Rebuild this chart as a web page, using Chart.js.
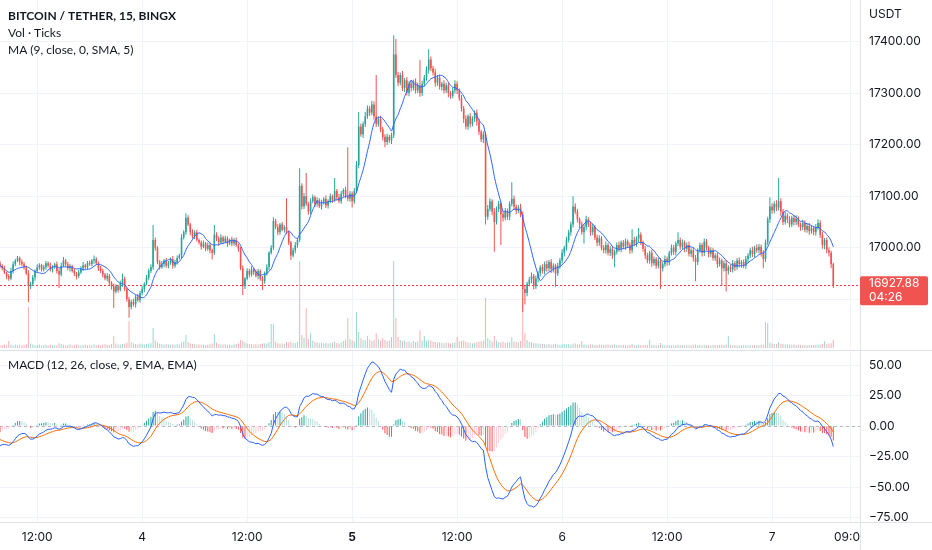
<!DOCTYPE html>
<html>
<head>
<meta charset="utf-8">
<title>BTC/USDT 15m</title>
<script src="https://cdn.jsdelivr.net/npm/chart.js@4.4.1/dist/chart.umd.min.js"></script>
<style>
  html, body { margin: 0; padding: 0; background: #ffffff; }
  #wrap { position: relative; width: 932px; height: 550px; overflow: hidden; }
  canvas { position: absolute; left: 0; display: block; }
  #priceCanvas { top: 0; }
  #macdCanvas { top: 350px; }
</style>
</head>
<body>
<div id="wrap">
  <canvas id="priceCanvas" width="932" height="350"></canvas>
  <canvas id="macdCanvas" width="932" height="200"></canvas>
</div>
<script>
/* =====================================
   Data (15 min bars, first bar Dec 3 07:45)
===================================== */
const startDay = 3;
const startMinute = 7 * 60 + 45;
const barMinutes = 15;

const firstOpen = 16970;

const closes = [
  16965,16960,16952,16945,16940,16955,16968,16975,16980,16972,16968,16962,16950,16925,16930,16942,16955,16962,16966,16958,
  16962,16970,16965,16958,16962,16968,16955,16948,16965,16975,16968,16960,16964,16955,16950,16945,16952,16960,16966,16962,
  16970,16968,16975,16978,16970,16960,16955,16948,16940,16945,16932,16925,16915,16925,16918,16930,16940,16920,16900,16885,
  16895,16890,16905,16898,16912,16920,16930,16942,16955,16962,17015,17000,16972,16962,16968,16975,16965,16970,16978,16965,
  16972,16980,16985,17020,17030,17058,17045,17030,17022,17030,17015,17010,17002,17008,16998,17005,16995,16990,17025,17018,
  17010,17020,17012,17018,17008,17015,17008,17015,17005,16998,16960,16925,16940,16955,16948,16958,16952,16945,16955,16940,
  16935,16950,16962,16990,17000,17052,17040,17030,17045,17035,17040,17030,17010,16985,16995,17005,17015,17120,17080,17100,
  17085,17070,17090,17098,17085,17092,17080,17088,17095,17082,17090,17100,17092,17110,17098,17090,17105,17112,17100,17095,
  17105,17090,17110,17160,17235,17220,17240,17255,17270,17262,17278,17255,17240,17250,17230,17215,17205,17215,17208,17218,
  17375,17335,17320,17335,17310,17325,17300,17318,17310,17322,17305,17315,17300,17318,17330,17345,17365,17348,17340,17320,
  17330,17312,17318,17305,17315,17300,17295,17305,17318,17305,17290,17270,17250,17235,17255,17240,17250,17262,17245,17225,
  17210,17220,17060,17075,17090,17070,17050,17075,17085,17065,17058,17070,17060,17085,17095,17080,17072,17078,17065,16920,
  16912,16930,16938,16945,16925,16940,16950,16962,16955,16968,16960,16972,16958,16965,16950,16965,16975,16990,17000,17015,
  17030,17045,17080,17070,17055,17045,17030,17040,17055,17045,17030,17040,17020,17010,17018,17000,16995,17005,16990,16998,
  16985,16992,17005,16998,17010,17002,17012,17005,16995,17015,17008,17018,17025,17010,16998,16985,16975,16990,16970,16978,
  16965,16975,16960,16968,16978,16972,16990,17000,16992,17008,17015,17002,17010,16998,17005,16988,16995,16980,16972,16995,
  17005,16990,17012,17000,16988,16995,16980,16985,16968,16975,16960,16970,16955,16962,16958,16970,16962,16975,16968,16972,
  16965,16978,16985,16995,16988,17000,16995,17002,16990,16978,17010,17055,17080,17072,17085,17078,17090,17070,17050,17062,
  17055,17045,17058,17050,17056,17045,17040,17048,17035,17042,17032,17038,17030,17040,17048,17025,17005,17015,16995,16990,
  16968,16927.88
];

// wick length above max(open, close) / below min(open, close)
const upperWicks = [
  4,3,5,2,4,6,5,3,4,3,5,4,3,6,4,5,3,6,4,3,
  5,4,3,6,4,3,5,4,6,7,3,4,5,3,4,3,5,4,6,3,
  4,5,3,7,4,3,5,4,3,6,4,3,5,4,3,6,10,4,3,5,
  4,6,3,5,4,6,3,5,4,6,29,5,3,4,6,3,5,4,3,6,
  4,5,3,6,4,9,5,3,6,4,5,3,4,6,3,5,4,3,19,5,
  4,6,3,5,4,3,6,4,5,3,4,6,3,5,4,6,3,5,4,3,
  5,4,6,3,5,7,4,6,3,5,4,56,4,3,5,6,4,34,5,6,
  45,4,6,5,3,6,4,5,3,6,4,5,3,25,4,6,5,3,6,95,
  5,4,6,8,28,6,5,8,6,5,7,6,80,5,6,4,5,6,4,5,
  37,30,6,5,8,4,6,5,7,4,6,5,49,6,5,7,20,6,5,7,
  5,6,4,7,5,6,4,5,7,5,4,6,5,7,4,6,5,4,6,5,
  4,6,5,8,6,4,7,5,6,4,5,7,6,5,32,6,4,5,7,5,
  6,4,5,7,4,6,5,4,6,5,7,4,6,5,4,6,5,7,4,6,
  5,6,20,6,5,4,6,5,7,4,5,6,4,5,6,4,5,7,4,5,
  6,4,5,7,4,5,6,4,5,21,6,4,13,5,4,6,5,4,6,5,
  4,6,5,4,7,5,4,6,5,4,15,5,6,4,5,7,4,5,6,4,
  5,4,6,5,4,6,5,4,5,6,4,5,6,4,5,6,4,5,6,4,
  5,6,4,5,7,4,6,5,4,5,6,5,18,6,5,7,45,6,5,7,
  5,6,4,5,7,5,4,6,5,4,6,5,4,6,7,5,6,4,5,6,
  4,3
];

const lowerWicks = [
  5,4,3,6,4,3,5,4,3,6,4,5,3,31,5,4,6,3,5,4,
  4,5,3,4,6,3,5,26,4,3,5,4,6,3,5,6,4,3,5,4,
  5,3,4,6,3,5,4,6,3,5,4,6,32,4,5,3,6,4,5,21,
  5,4,6,3,5,4,6,3,5,4,5,6,4,5,3,6,4,5,3,6,
  4,5,3,6,4,5,3,6,4,5,3,4,6,3,5,4,6,13,4,5,
  6,3,5,4,6,3,5,4,3,6,4,17,5,3,6,4,5,3,6,4,
  17,5,4,6,3,5,4,6,5,3,6,4,5,9,4,6,5,4,6,5,
  4,6,5,4,6,5,3,6,4,5,6,4,5,3,6,4,5,6,4,5,
  6,12,5,4,6,5,7,6,5,6,5,7,6,5,6,7,10,6,5,7,
  5,6,7,5,6,8,5,6,7,5,6,5,7,6,5,6,7,5,6,8,
  6,5,7,6,5,8,6,5,6,7,5,6,8,5,6,7,5,6,8,6,
  5,7,15,6,5,7,58,5,6,60,7,5,6,7,5,6,7,5,6,45,
  22,6,5,7,6,5,7,6,5,7,6,5,7,6,26,5,6,5,7,6,
  5,7,6,5,6,7,5,22,6,5,7,6,5,7,6,5,6,7,5,6,
  7,23,5,6,7,5,6,5,7,6,5,6,7,5,6,7,5,6,7,5,
  6,5,40,6,5,7,6,5,6,7,5,6,5,7,6,5,6,7,37,6,
  5,7,6,5,7,6,5,6,7,5,35,6,40,7,5,6,7,5,6,7,
  5,6,7,5,6,7,5,6,7,18,6,5,7,6,5,7,6,8,6,5,
  7,6,5,7,6,5,7,6,5,6,7,5,6,7,5,6,7,8,6,7,
  8,6
];

// tick volume
const volumes = [
  60,55,70,50,140,65,48,72,58,66,50,62,75,820,90,68,55,60,72,50,
  58,64,48,70,55,62,50,95,80,66,52,60,74,48,56,70,62,50,58,66,
  54,60,48,72,56,64,50,68,74,58,62,80,240,90,70,66,78,84,110,540,
  120,95,80,72,88,76,70,82,90,96,400,150,110,86,74,68,80,72,66,70,
  64,78,72,110,130,260,120,96,84,78,70,74,66,72,60,68,76,90,280,110,
  86,72,68,76,64,70,62,74,80,96,160,140,110,90,82,76,70,84,72,80,
  96,88,92,120,480,480,130,96,88,92,84,120,110,130,100,96,120,1740,260,200,
  800,180,300,150,120,110,96,104,90,100,88,96,110,130,100,92,110,140,160,600,
  180,150,130,720,320,200,160,150,240,170,140,160,300,180,150,200,160,140,150,220,
  1740,600,220,160,140,150,120,130,110,140,120,130,360,150,240,140,160,150,130,120,
  110,120,100,96,110,104,92,100,110,220,130,140,150,120,110,100,96,104,120,130,
  140,150,1000,200,160,130,240,150,120,110,130,100,110,120,220,130,120,110,140,1000,
  300,160,120,110,100,96,90,84,80,76,72,80,70,76,84,70,66,74,80,72,
  78,70,84,90,72,68,140,76,70,64,68,72,60,66,70,62,58,64,70,60,
  66,72,58,62,56,64,60,54,58,80,62,56,68,60,54,58,62,160,66,58,
  54,60,100,64,58,52,60,56,50,58,64,54,60,52,58,50,56,62,70,54,
  58,52,60,54,56,50,58,62,54,60,66,58,70,240,60,54,58,52,56,50,
  54,58,52,60,56,62,58,54,60,70,520,500,110,90,80,76,120,84,78,70,
  72,68,64,70,62,66,60,58,64,56,60,62,58,64,70,66,80,140,76,88,
  96,160
];

// MACD / signal read at the left edge of the view
const macdStart = -16;
const signalStart = -11;

const tickLabels = ["12:00", "4", "12:00", "5", "12:00", "6", "12:00", "7", "09:00"];
const tickTimes = ["3 12:00", "4 00:00", "4 12:00", "5 00:00", "5 12:00",
                   "6 00:00", "6 12:00", "7 00:00", "7 09:00"];

const priceTicks = [16900, 17000, 17100, 17200, 17300, 17400];
const macdTicks = [-75, -50, -25, 0, 25, 50];

const titleText = "BITCOIN / TETHER, 15, BINGX";
const volText = "Vol \u00b7 Ticks";
const maText = "MA (9, close, 0, SMA, 5)";
const macdText = "MACD (12, 26, close, 9, EMA, EMA)";
const axisUnit = "USDT";
const countdown = "04:26";

/* =====================================
   Derived series
===================================== */
const UP = "#26a69a";
const DOWN = "#ef5350";
const GRID = "#f0f3fa";
const BORDER = "#e0e3eb";
const TEXT = "#131722";

const opens = closes.map((c, i) => i === 0 ? firstOpen : closes[i - 1]);
const highs = closes.map((c, i) => Math.max(opens[i], c) + upperWicks[i]);
const lows = closes.map((c, i) => Math.min(opens[i], c) - lowerWicks[i]);
const isUp = closes.map((c, i) => c >= opens[i]);
const lastClose = closes[closes.length - 1];

const tickIndex = tickTimes.map((t) => {
  const [d, hm] = t.split(" ");
  const [h, m] = hm.split(":").map(Number);
  return ((Number(d) - startDay) * 1440 + h * 60 + m - startMinute) / barMinutes;
});

function sma(values, len) {
  return values.map((v, i) => {
    const from = Math.max(0, i - len + 1);
    let s = 0;
    for (let k = from; k <= i; k++) s += values[k];
    return s / (i - from + 1);
  });
}

const ma9 = sma(closes, 9);

const macd = [];
const signal = [];
const hist = [];
{
  const k12 = 2 / 13, k26 = 2 / 27, k9 = 2 / 10;
  let e12 = closes[0];
  let e26 = closes[0] - macdStart;
  let sig = signalStart;
  closes.forEach((c, i) => {
    if (i > 0) {
      e12 += k12 * (c - e12);
      e26 += k26 * (c - e26);
    }
    const m = e12 - e26;
    if (i > 0) sig += k9 * (m - sig);
    macd.push(m);
    signal.push(sig);
    hist.push(m - sig);
  });
}

const histColors = hist.map((h, i) => {
  const prev = i > 0 ? hist[i - 1] : h;
  if (h >= 0) return prev < h ? "#26a69a" : "#b2dfdb";
  return prev < h ? "#ffcdd2" : "#ff5252";
});

const xMin = 0;
const xMax = closes.length - 1 + 12.2;

/* =====================================
   Shared scale helpers
===================================== */
function xScale(showLabels) {
  return {
    type: "linear",
    min: xMin,
    max: xMax,
    offset: false,
    grid: { color: GRID, drawTicks: false, offset: false },
    border: { display: false },
    afterBuildTicks: (scale) => {
      scale.ticks = tickIndex.map((v) => ({ value: v }));
    },
    afterFit: (scale) => {
      scale.height = showLabels ? 28 : 0;
      scale.paddingLeft = 0;
      scale.paddingRight = 0;
    },
    ticks: {
      display: showLabels,
      autoSkip: false,
      maxRotation: 0,
      padding: 8,
      color: TEXT,
      font: (ctx) => ({
        family: "Inter",
        size: 12,
        weight: tickLabels[ctx.index] === "5" ? "bold" : "normal"
      }),
      callback: (v, i) => tickLabels[i]
    }
  };
}

function rightAxis(min, max, values, fmt) {
  return {
    type: "linear",
    position: "right",
    min: min,
    max: max,
    grid: { color: GRID, drawTicks: false },
    border: { display: false },
    afterBuildTicks: (scale) => {
      scale.ticks = values.map((v) => ({ value: v }));
    },
    afterFit: (scale) => {
      scale.width = 72;
      scale.paddingTop = 0;
      scale.paddingBottom = 0;
    },
    ticks: {
      padding: 9,
      color: TEXT,
      font: { family: "Inter", size: 12 },
      callback: fmt
    }
  };
}

/* =====================================
   Price pane
===================================== */
const pricePaneDecor = {
  id: "pricePaneDecor",
  beforeDatasetsDraw(chart) {
    const { ctx, chartArea, scales } = chart;
    const y = Math.round(scales.y.getPixelForValue(lastClose)) + 0.5;
    ctx.save();
    ctx.strokeStyle = "#f23645";
    ctx.lineWidth = 1;
    ctx.setLineDash([2, 2]);
    ctx.beginPath();
    ctx.moveTo(chartArea.left, y);
    ctx.lineTo(chartArea.right, y);
    ctx.stroke();
    ctx.restore();
  },
  afterDraw(chart) {
    const { ctx, chartArea, scales } = chart;
    ctx.save();

    ctx.strokeStyle = BORDER;
    ctx.lineWidth = 1;
    ctx.beginPath();
    ctx.moveTo(chartArea.right + 0.5, 0);
    ctx.lineTo(chartArea.right + 0.5, chart.height);
    ctx.stroke();

    ctx.fillStyle = TEXT;
    ctx.textBaseline = "middle";
    ctx.textAlign = "left";
    ctx.font = "bold 12px Lato";
    ctx.fillText(titleText, 8, 16);
    ctx.font = "12px Lato";
    ctx.fillText(volText, 8, 33);
    ctx.fillText(maText, 8, 50);

    ctx.font = "12px Inter";
    ctx.fillText(axisUnit, chartArea.right + 9, 14);

    const y = scales.y.getPixelForValue(lastClose);
    ctx.fillStyle = "#f05350";
    ctx.beginPath();
    ctx.roundRect(chartArea.right, y - 8.5, 68, 29, 2);
    ctx.fill();
    ctx.fillStyle = "#ffffff";
    ctx.fillText(lastClose.toFixed(2), chartArea.right + 9, y - 1);
    ctx.fillText(countdown, chartArea.right + 9, y + 13);

    ctx.restore();
  }
};

const idx = closes.map((c, i) => i);

new Chart(document.getElementById("priceCanvas"), {
  type: "bar",
  data: {
    datasets: [
      {
        type: "line",
        label: "MA",
        data: idx.map((i) => ({ x: i, y: ma9[i] })),
        borderColor: "#2962ff",
        borderWidth: 1,
        pointRadius: 0,
        tension: 0.2,
        yAxisID: "y",
        order: 0
      },
      {
        label: "body",
        data: idx.map((i) => ({ x: i, y: [Math.min(opens[i], closes[i]), Math.max(opens[i], closes[i])] })),
        backgroundColor: isUp.map((u) => u ? UP : DOWN),
        barThickness: 1.6,
        minBarLength: 1,
        grouped: false,
        inflateAmount: 0,
        yAxisID: "y",
        order: 1
      },
      {
        label: "wick",
        data: idx.map((i) => ({ x: i, y: [lows[i], highs[i]] })),
        backgroundColor: isUp.map((u) => u ? UP : DOWN),
        barThickness: 1,
        grouped: false,
        inflateAmount: 0,
        yAxisID: "y",
        order: 2
      },
      {
        label: "volume",
        data: idx.map((i) => ({ x: i, y: volumes[i] })),
        backgroundColor: isUp.map((u) => u ? "rgba(38,166,154,0.45)" : "rgba(239,83,80,0.45)"),
        barThickness: 1,
        grouped: false,
        inflateAmount: 0,
        yAxisID: "yv",
        order: 3
      }
    ]
  },
  options: {
    responsive: false,
    animation: false,
    events: [],
    layout: { padding: { left: 0, right: 0, top: 0, bottom: 2 } },
    plugins: { legend: { display: false }, tooltip: { enabled: false } },
    scales: {
      x: xScale(false),
      y: rightAxis(16805.4, 17480.5, priceTicks, (v) => v.toFixed(2)),
      yv: {
        type: "linear",
        display: false,
        min: 0,
        max: 6960
      }
    }
  },
  plugins: [pricePaneDecor]
});

/* =====================================
   MACD pane
===================================== */
const macdPaneDecor = {
  id: "macdPaneDecor",
  beforeDatasetsDraw(chart) {
    const { ctx, chartArea, scales } = chart;
    const y = Math.round(scales.y.getPixelForValue(0)) + 0.5;
    ctx.save();
    ctx.strokeStyle = "rgba(120,123,134,0.5)";
    ctx.lineWidth = 1;
    ctx.setLineDash([3, 3]);
    ctx.beginPath();
    ctx.moveTo(chartArea.left, y);
    ctx.lineTo(chartArea.right, y);
    ctx.stroke();
    ctx.restore();
  },
  afterDraw(chart) {
    const { ctx, chartArea } = chart;
    ctx.save();

    ctx.fillStyle = "#ffffff";
    ctx.fillRect(chartArea.right, chartArea.bottom, chart.width - chartArea.right, chart.height - chartArea.bottom);

    ctx.strokeStyle = BORDER;
    ctx.lineWidth = 1;
    ctx.beginPath();
    ctx.moveTo(0, 0.5);
    ctx.lineTo(chart.width, 0.5);
    ctx.moveTo(0, chartArea.bottom + 0.5);
    ctx.lineTo(chart.width, chartArea.bottom + 0.5);
    ctx.moveTo(chartArea.right + 0.5, 0);
    ctx.lineTo(chartArea.right + 0.5, chart.height);
    ctx.stroke();

    ctx.fillStyle = TEXT;
    ctx.textBaseline = "middle";
    ctx.textAlign = "left";
    ctx.font = "12px Lato";
    ctx.fillText(macdText, 8, 15);

    ctx.restore();
  }
};

new Chart(document.getElementById("macdCanvas"), {
  type: "bar",
  data: {
    datasets: [
      {
        type: "line",
        label: "MACD",
        data: idx.map((i) => ({ x: i, y: macd[i] })),
        borderColor: "#2962ff",
        borderWidth: 1,
        pointRadius: 0,
        tension: 0,
        order: 0
      },
      {
        type: "line",
        label: "Signal",
        data: idx.map((i) => ({ x: i, y: signal[i] })),
        borderColor: "#ff6d00",
        borderWidth: 1,
        pointRadius: 0,
        tension: 0,
        order: 1
      },
      {
        label: "Histogram",
        data: idx.map((i) => ({ x: i, y: hist[i] })),
        backgroundColor: histColors,
        barThickness: 1,
        grouped: false,
        inflateAmount: 0,
        order: 2
      }
    ]
  },
  options: {
    responsive: false,
    animation: false,
    events: [],
    layout: { padding: 0 },
    plugins: { legend: { display: false }, tooltip: { enabled: false } },
    scales: {
      x: xScale(true),
      y: rightAxis(-78.5, 62.3, macdTicks, (v) =>
        v < 0 ? "\u2212" + Math.abs(v).toFixed(2) : v.toFixed(2))
    }
  },
  plugins: [macdPaneDecor]
});
</script>
</body>
</html>
